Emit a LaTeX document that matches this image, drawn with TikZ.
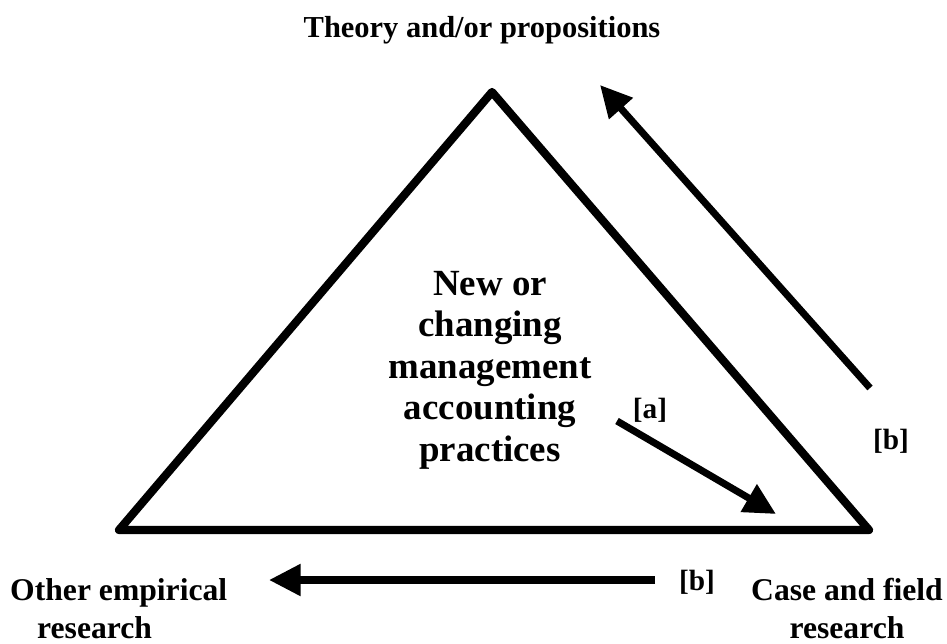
\documentclass[tikz,border=0pt]{standalone}
\usepackage{fontspec}
\setmainfont{Liberation Serif}
\usetikzlibrary{arrows.meta}
\begin{document}
\begin{tikzpicture}[x=0.03cm,y=-0.03cm,
  lbl/.style={font=\bfseries\fontsize{27}{32.5}\selectfont, inner sep=0pt},
  tag/.style={font=\bfseries\fontsize{25}{30}\selectfont, inner sep=0pt},
  flow/.style={line width=6pt, -{Triangle[length=27pt,width=26pt]}}]
\useasboundingbox (0,0) rectangle (947,644);

% the triangle
\coordinate (apex) at (492,92);
\coordinate (bl) at (119,530);
\coordinate (br) at (869,530);
\draw[line width=7pt, line join=round] (apex) -- (br) -- (bl) -- cycle;

% labels
\node[font=\bfseries\fontsize{26}{31}\selectfont, inner sep=0pt] (theory) at (482,30) {Theory and/or propositions};
\node[align=center, inner sep=0pt, font=\bfseries\fontsize{31.5}{35.4}\selectfont] (practices) at (490,370)
  {New or\\changing\\management\\accounting\\practices};
\node[lbl, align=left, anchor=north west] (other) at (10,578)
  {Other empirical\\\hspace*{23pt}research};
\node[lbl, align=center, anchor=north east] (case) at (943,578)
  {Case and field\\research};
\node[tag] (taga) at (650,410) {[a]};
\node[tag] (tagb1) at (891,441) {[b]};
\node[tag] (tagb2) at (697,582) {[b]};

% arrows
\coordinate (a0) at (617,421);
\coordinate (a1) at (776,514);
\coordinate (b0) at (870,388);
\coordinate (b1) at (600,85);
\coordinate (c0) at (655,580);
\coordinate (c1) at (269,580);
\draw[flow] (a0) -- (a1);
\draw[flow] (b0) -- (b1);
\draw[flow] (c0) -- (c1);
\end{tikzpicture}
\end{document}
